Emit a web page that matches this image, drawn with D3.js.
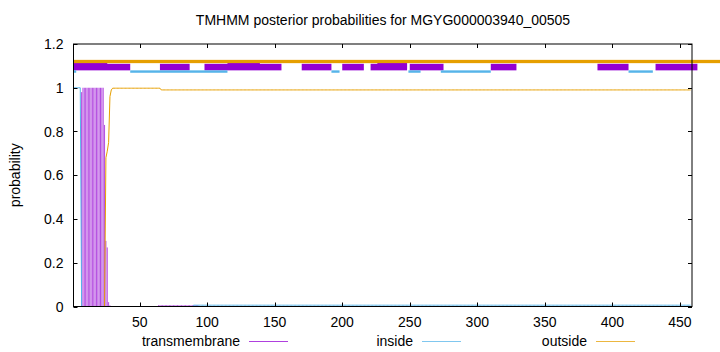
<!DOCTYPE html>
<html>
<head>
<meta charset="utf-8">
<script src="https://cdn.jsdelivr.net/npm/d3@7"></script>
<style>
  body { margin: 0; background: #fff; }
  text { font-family: "Liberation Sans", Arial, sans-serif; font-size: 14px; fill: #000; }
</style>
</head>
<body>
<svg id="chart" width="720" height="352"></svg>
<script>
// sequence length and axis ticks
var seqLength = 458;
var xTicks = [50, 100, 150, 200, 250, 300, 350, 400, 450];
var yTicks = [0, 0.2, 0.4, 0.6, 0.8, 1, 1.2];

// posterior probabilities as runs of residues: [from, to, value]
var tmRuns = [[1, 6, 0], [7, 7, 0.98], [8, 23, 1.0], [24, 24, 0.83], [25, 25, 0.30],
    [26, 26, 0.27], [27, 27, 0.02], [28, 28, 0.005], [29, 63, 0], [64, 93, 0.006], [94, 458, 0]];
var insideRuns = [[1, 6, 1.0], [7, 89, 0.0], [90, 458, 0.006]];
var outsideRuns = [[1, 24, 0], [25, 25, 0.68], [26, 26, 0.71], [27, 27, 0.75], [28, 28, 0.96],
    [29, 29, 0.99], [30, 65, 0.998], [66, 458, 0.99]];

// predicted topology strips along the top: [from, to]
var outsideStrip = [[1, 480]];
var tmStrip = [[1, 43], [65, 87], [98, 155], [170, 192], [200, 216], [221, 248], [250, 275],
    [310, 329], [389, 412], [432, 463]];
var tmStripHigh = [[1, 26], [115, 139], [226, 248]];
var insideStrip = [[1, 3], [43, 115], [192, 198], [249, 258], [273, 310], [412, 430]];

var legendNames = ["transmembrane", "inside", "outside"];
var colors = { tm: "#9400d3", inside: "#56b4e9", outside: "#e69f00" };

function expandRuns(runs) {
    var out = [];
    runs.forEach(function (r) {
        for (var i = r[0]; i <= r[1]; i++) out.push({ pos: i, p: r[2] });
    });
    return out;
}

var svg = d3.select("#chart");
var plotLeft = 73.5, plotRight = 692, plotTop = 44, plotBottom = 306.5;

var x = d3.scaleLinear().domain([1, seqLength + 1]).range([plotLeft, plotRight]);
var y = d3.scaleLinear().domain([0, 1.2]).range([plotBottom, plotTop]);

// title and axis label
svg.append("text")
    .attr("x", 383).attr("y", 25)
    .attr("text-anchor", "middle")
    .text("TMHMM posterior probabilities for MGYG000003940_00505");

svg.append("text")
    .attr("transform", "translate(20," + ((plotTop + plotBottom) / 2) + ") rotate(-90)")
    .attr("text-anchor", "middle")
    .text("probability");

// probability curves
var tmData = expandRuns(tmRuns);
svg.append("g").selectAll("line")
    .data(tmData.filter(function (d) { return d.p > 0; }))
    .enter().append("line")
    .attr("x1", function (d) { return x(d.pos); })
    .attr("x2", function (d) { return x(d.pos); })
    .attr("y1", y(0))
    .attr("y2", function (d) { return y(d.p); })
    .attr("stroke", colors.tm)
    .attr("stroke-opacity", 0.7)
    .attr("stroke-width", 1);

var line = d3.line()
    .x(function (d) { return x(d.pos); })
    .y(function (d) { return y(d.p); });

svg.append("path")
    .datum(expandRuns(insideRuns))
    .attr("d", line)
    .attr("fill", "none")
    .attr("stroke", colors.inside)
    .attr("stroke-width", 1);

svg.append("path")
    .datum(expandRuns(outsideRuns))
    .attr("d", line)
    .attr("fill", "none")
    .attr("stroke", colors.outside)
    .attr("stroke-width", 1);

// topology strips
function strip(data, color, v0, v1) {
    svg.append("g").selectAll("rect")
        .data(data)
        .enter().append("rect")
        .attr("x", function (d) { return x(d[0]); })
        .attr("width", function (d) { return x(d[1]) - x(d[0]); })
        .attr("y", y(v1))
        .attr("height", y(v0) - y(v1))
        .attr("fill", color);
}
strip(tmStrip, colors.tm, 1.0795, 1.1095);
strip(tmStripHigh, colors.tm, 1.0865, 1.1175);
strip(insideStrip, colors.inside, 1.0685, 1.0795);
strip(outsideStrip, colors.outside, 1.1125, 1.1275);

// frame and ticks
var frame = svg.append("g").attr("stroke", "#000").attr("stroke-width", 1);
frame.append("rect")
    .attr("x", plotLeft).attr("y", plotTop)
    .attr("width", plotRight - plotLeft).attr("height", plotBottom - plotTop)
    .attr("fill", "none");

xTicks.forEach(function (t) {
    var px = Math.round(x(t)) + 0.5;
    frame.append("line").attr("x1", px).attr("x2", px).attr("y1", plotBottom).attr("y2", plotBottom - 4);
    frame.append("line").attr("x1", px).attr("x2", px).attr("y1", plotTop).attr("y2", plotTop + 4);
});
yTicks.forEach(function (t) {
    var py = Math.round(y(t)) + 0.5;
    frame.append("line").attr("x1", plotLeft).attr("x2", plotLeft + 4).attr("y1", py).attr("y2", py);
    frame.append("line").attr("x1", plotRight).attr("x2", plotRight - 4).attr("y1", py).attr("y2", py);
});

svg.append("g").selectAll("text")
    .data(xTicks)
    .enter().append("text")
    .attr("x", function (d) { return x(d); })
    .attr("y", 327)
    .attr("text-anchor", "middle")
    .text(function (d) { return d; });

svg.append("g").selectAll("text")
    .data(yTicks)
    .enter().append("text")
    .attr("x", 63.5)
    .attr("y", function (d) { return y(d) + 5; })
    .attr("text-anchor", "end")
    .text(function (d) { return d; });

// legend
var legendRight = [240, 413, 587];
var legendColors = [colors.tm, colors.inside, colors.outside];
legendNames.forEach(function (name, i) {
    svg.append("text")
        .attr("x", legendRight[i]).attr("y", 346)
        .attr("text-anchor", "end")
        .text(name);
    svg.append("line")
        .attr("x1", legendRight[i] + 9).attr("x2", legendRight[i] + 48)
        .attr("y1", 341.5).attr("y2", 341.5)
        .attr("stroke", legendColors[i])
        .attr("stroke-opacity", 0.75)
        .attr("stroke-width", 1);
});
</script>
</body>
</html>
